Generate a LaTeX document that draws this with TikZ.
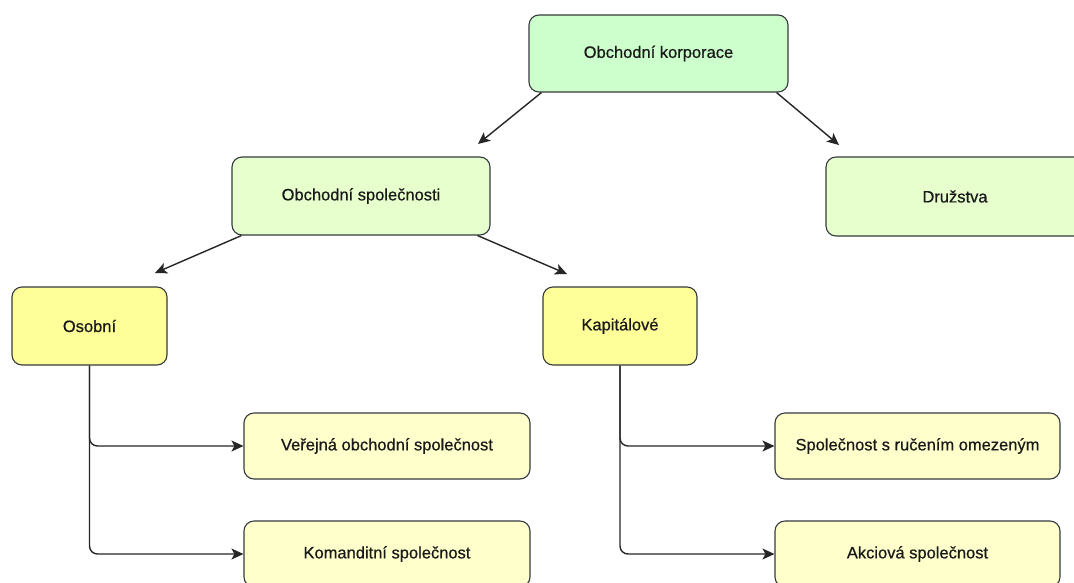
\documentclass[tikz,border=0pt]{standalone}
\usepackage{fontspec}
\setmainfont{Liberation Sans}
\newfontfamily\boxfont{Liberation Sans}[FakeBold=0.6]
\usetikzlibrary{arrows.meta}
\definecolor{bord}{HTML}{36393D}
\definecolor{fA}{HTML}{CCFFCC}
\definecolor{fB}{HTML}{E6FFCC}
\definecolor{fC}{HTML}{FFFF99}
\definecolor{fD}{HTML}{FFFFCC}
\tikzset{
  box/.style={draw=bord, line width=1.1pt, rounded corners=10pt, inner sep=0pt,
    font=\boxfont\fontsize{16.5}{20}\selectfont, text=black!90},
  arr/.style={draw=black!85, line width=1.4pt, -{Stealth[length=12pt,width=11pt,inset=3pt]}},
  elbow/.style={arr, rounded corners=8pt}
}
\begin{document}
\begin{tikzpicture}[x=1pt,y=-1pt]
\useasboundingbox (0,0) rectangle (1074,582);
\clip (0,0) rectangle (1074,582);
\fill[white] (0,0) rectangle (1074,582);
\node[box, fill=fA, minimum width=259pt, minimum height=77pt] (ok) at (658.5,53.5) {Obchodní korporace};
\node[box, fill=fB, minimum width=258pt, minimum height=78pt] (os) at (361,196) {Obchodní společnosti};
\node[box, fill=fB, minimum width=258pt, minimum height=79pt] (dr) at (955,196.5) {Družstva};
\node[box, fill=fC, minimum width=155pt, minimum height=78pt] (osb) at (89.5,326) {Osobní};
\node[box, fill=fC, minimum width=154pt, minimum height=78pt] (kap) at (620,326) {Kapitálové};
\node[box, fill=fD, minimum width=286pt, minimum height=66pt] (vos) at (387,446) {Veřejná obchodní společnost};
\node[box, fill=fD, minimum width=286pt, minimum height=66pt] (ks) at (387,554) {Komanditní společnost};
\node[box, fill=fD, minimum width=285pt, minimum height=66pt] (sro) at (917.5,446) {Společnost s ručením omezeným};
\node[box, fill=fD, minimum width=285pt, minimum height=66pt] (as) at (917.5,554) {Akciová společnost};
\coordinate (t1) at (478,144);
\coordinate (t2) at (839,145);
\coordinate (t3) at (155,273);
\coordinate (t4) at (567,274);
\draw[arr] ([xshift=13pt]ok.south west) -- (t1);
\draw[arr] ([xshift=-12pt]ok.south east) -- (t2);
\draw[arr] ([xshift=10pt]os.south west) -- (t3);
\draw[arr] ([xshift=-13pt]os.south east) -- (t4);
\draw[elbow] (osb.south) |- (vos.west);
\draw[elbow] (osb.south) |- (ks.west);
\draw[elbow] (kap.south) |- (sro.west);
\draw[elbow] (kap.south) |- (as.west);
\end{tikzpicture}
\end{document}
